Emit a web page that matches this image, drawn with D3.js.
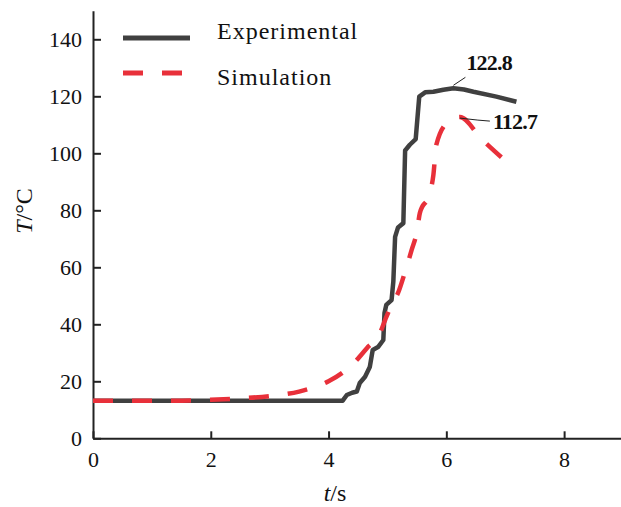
<!DOCTYPE html>
<html>
<head>
<meta charset="utf-8">
<script src="https://cdn.jsdelivr.net/npm/d3@7"></script>
<style>
  html, body { margin: 0; padding: 0; background: #fff; }
  svg { display: block; }
  text { font-family: "Liberation Serif", "Times New Roman", serif; fill: #111; }
</style>
</head>
<body>
<svg id="chart" width="621" height="507"></svg>
<script>
// ---- data ----
const expT = [0, 4.24, 4.31, 4.40, 4.48, 4.53, 4.62, 4.70, 4.75, 4.84, 4.93, 4.95, 4.98, 5.07, 5.10, 5.13, 5.18, 5.27, 5.30, 5.38, 5.48, 5.50, 5.54, 5.64, 5.78, 5.95, 6.12, 6.30, 6.46, 6.85, 7.19];
const expV = [13.2, 13.2, 15.2, 16.0, 16.4, 19.4, 21.6, 25.0, 31.0, 32.0, 34.5, 44.0, 46.8, 48.5, 55.0, 70.7, 74.0, 75.5, 101.0, 103.0, 105.0, 110.0, 119.9, 121.4, 121.6, 122.3, 122.8, 122.4, 121.6, 119.9, 118.1];
const simT = [0, 1.5, 2.0, 2.5, 3.0, 3.5, 4.0, 4.25, 4.48, 4.65, 4.87, 4.96, 5.07, 5.18, 5.30, 5.41, 5.50, 5.55, 5.72, 5.78, 5.83, 6.03, 6.23, 6.60, 6.99];
const simV = [13.2, 13.2, 13.5, 14.0, 14.8, 16.4, 20.0, 23.2, 27.5, 31.6, 36.8, 41.5, 46.8, 51.0, 58.5, 66.0, 72.5, 79.0, 86.0, 92.4, 103.0, 111.0, 112.7, 105.0, 97.6];
const xTicks = [0, 2, 4, 6, 8];
const yTicks = [0, 20, 40, 60, 80, 100, 120, 140];
const seriesNames = ["Experimental", "Simulation"];
const annotations = [
  { t: 6.12, v: 122.8, label: "122.8" },
  { t: 6.23, v: 112.7, label: "112.7" }
];

// ---- layout ----
const svg = d3.select("#chart");
const x = d3.scaleLinear().domain([0, 9]).range([93, 623]);
const y = d3.scaleLinear().domain([0, 150]).range([438.3, 10.8]);

const axisColor = "#222";

// x axis
const gx = svg.append("g").attr("transform", `translate(0,${y(0)})`)
  .call(d3.axisBottom(x).tickValues(xTicks).tickSizeInner(-7).tickSizeOuter(0).tickPadding(13));
gx.select(".domain").attr("stroke", axisColor).attr("stroke-width", 2);
gx.selectAll(".tick line").attr("stroke", axisColor).attr("stroke-width", 2);
gx.selectAll(".tick text").attr("font-size", 22).attr("font-family", "Liberation Serif").attr("fill", "#111");

// y axis
const gy = svg.append("g").attr("transform", `translate(${x(0)},0)`)
  .call(d3.axisLeft(y).tickValues(yTicks).tickSizeInner(-8).tickSizeOuter(0).tickPadding(11));
gy.select(".domain").attr("stroke", axisColor).attr("stroke-width", 2);
gy.selectAll(".tick line").attr("stroke", axisColor).attr("stroke-width", 2);
gy.selectAll(".tick text").attr("font-size", 22).attr("font-family", "Liberation Serif").attr("fill", "#111");

// lines
const line = d3.line().x(d => x(d[0])).y(d => y(d[1]));
const simLine = d3.line().x(d => x(d[0])).y(d => y(d[1])).curve(d3.curveMonotoneX);
const expData = expT.map((t, i) => [t, expV[i]]);
const simData = simT.map((t, i) => [t, simV[i]]);

svg.append("path").datum(expData).attr("d", line)
  .attr("fill", "none").attr("stroke", "#404040").attr("stroke-width", 4.5)
  .attr("stroke-linejoin", "round");
svg.append("path").datum(simData).attr("d", simLine)
  .attr("fill", "none").attr("stroke", "#e8303a").attr("stroke-width", 4.5)
  .attr("stroke-dasharray", "20,19");

// annotations
const a0 = annotations[0];
svg.append("path")
  .attr("d", `M${x(a0.t)},${y(a0.v) - 3} L${x(a0.t) + 12},${y(a0.v) - 11}`)
  .attr("stroke", "#222").attr("stroke-width", 1).attr("fill", "none");
svg.append("text").attr("x", x(a0.t) + 13).attr("y", y(a0.v) - 18)
  .attr("font-size", 22).attr("font-weight", "bold").attr("letter-spacing", -0.8)
  .text(a0.label);
const a1 = annotations[1];
svg.append("path")
  .attr("d", `M${x(a1.t)},${y(a1.v) + 1} L${x(a1.t) + 18},${y(a1.v) + 3} L${x(a1.t) + 30},${y(a1.v) + 4}`)
  .attr("stroke", "#222").attr("stroke-width", 1).attr("fill", "none");
svg.append("text").attr("x", x(a1.t) + 33).attr("y", y(a1.v) + 12)
  .attr("font-size", 22).attr("font-weight", "bold").attr("letter-spacing", -0.8)
  .text(a1.label);

// legend
const leg = svg.append("g");
leg.append("line").attr("x1", 123).attr("x2", 190).attr("y1", 38).attr("y2", 38)
  .attr("stroke", "#404040").attr("stroke-width", 5);
leg.append("line").attr("x1", 123).attr("x2", 182).attr("y1", 73).attr("y2", 73)
  .attr("stroke", "#e8303a").attr("stroke-width", 5).attr("stroke-dasharray", "20,19");
leg.append("text").attr("x", 217).attr("y", 39).attr("font-size", 24).attr("letter-spacing", 1).text(seriesNames[0]);
leg.append("text").attr("x", 217).attr("y", 85).attr("font-size", 24).attr("letter-spacing", 1).text(seriesNames[1]);

// axis titles
const xl = svg.append("text").attr("x", 335).attr("y", 501).attr("text-anchor", "middle").attr("font-size", 24);
xl.append("tspan").attr("font-style", "italic").text("t");
xl.append("tspan").text("/s");
const yl = svg.append("text").attr("transform", "translate(32,211) rotate(-90)").attr("text-anchor", "middle").attr("font-size", 24);
yl.append("tspan").attr("font-style", "italic").text("T");
yl.append("tspan").text("/°C");
</script>
</body>
</html>
